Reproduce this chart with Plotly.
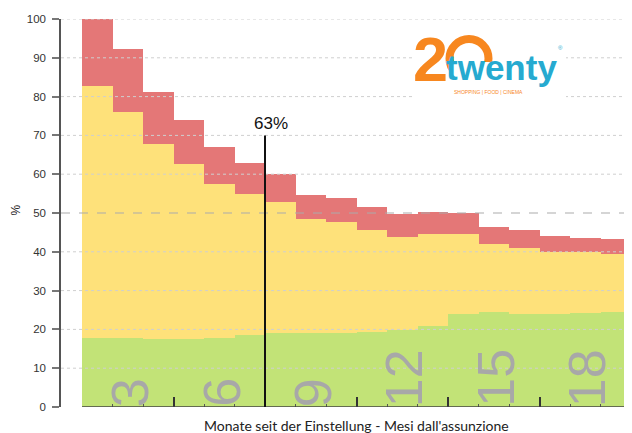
import plotly.graph_objects as go

# ---- data ----
months = list(range(1, 19))
green = [17.9, 17.9, 17.5, 17.6, 17.8, 18.5, 19.1, 19.1, 19.2, 19.3, 19.8, 20.8, 23.9, 24.4, 24.0, 24.0, 24.2, 24.4]
yellow_top = [82.7, 76.0, 67.8, 62.6, 57.5, 55.0, 52.8, 48.5, 47.7, 45.6, 43.9, 44.7, 44.7, 42.1, 41.1, 39.9, 39.9, 39.5]
total = [100.0, 92.3, 81.2, 74.0, 67.0, 63.0, 60.0, 54.6, 53.9, 51.5, 49.7, 50.2, 49.9, 46.4, 45.6, 44.1, 43.6, 43.3]
yellow = [round(yt - g, 2) for yt, g in zip(yellow_top, green)]
red = [round(t - yt, 2) for t, yt in zip(total, yellow_top)]
y_ticks = list(range(0, 101, 10))
ref_level = 50
marker_month = 6
marker_value = 63
group_labels = [m for m in months if m % 3 == 0]

# ---- layout geometry (page body has an 8px margin) ----
OFF = 8
PAGE_W, PAGE_H = 632, 433
W, H = PAGE_W - OFF, PAGE_H - OFF
L, R, T, B = 61 - OFF, 1, 19 - OFF, 26
PW, PH = W - L - R, H - T - B
bar_px = 30.5
x0 = 0.5 - (82 - 61) / bar_px
x1 = x0 + PW / bar_px


def px(xp):  # page pixel -> paper
    return (xp - OFF - L) / PW


def py(yp):
    return (PAGE_H - B - yp) / PH


C_RED, C_YEL, C_GRN = "#E47777", "#FEE17A", "#C2E377"
TXT = "Liberation Sans"

fig = go.Figure()
fig.add_bar(x=months, y=green, marker=dict(color=C_GRN, line=dict(width=0)), width=1)
fig.add_bar(x=months, y=yellow, marker=dict(color=C_YEL, line=dict(width=0)), width=1)
fig.add_bar(x=months, y=red, marker=dict(color=C_RED, line=dict(width=0)), width=1)

shapes = []
for v in y_ticks[1:]:
    if v == ref_level:
        shapes.append(dict(type="line", xref="paper", yref="y", x0=0, x1=1, y0=v, y1=v,
                           line=dict(color="#ABABAB", width=1, dash="dash"), layer="above"))
    else:
        shapes.append(dict(type="line", xref="paper", yref="y", x0=0, x1=1, y0=v, y1=v,
                           line=dict(color="#CFCFCF", width=1, dash="dot"), layer="above"))
shapes.append(dict(type="line", xref="x", yref="y", x0=months[0] - 0.5, x1=months[-1] + 0.5, y0=0, y1=0,
                   line=dict(color="#444", width=1.5), layer="above"))
shapes.append(dict(type="line", xref="x", yref="y", x0=marker_month + 0.5, x1=marker_month + 0.5,
                   y0=0, y1=marker_value + 7, line=dict(color="#111", width=2), layer="above"))
# logo background and "0" arch
shapes.append(dict(type="rect", xref="paper", yref="paper", x0=px(412), x1=px(566), y0=py(104), y1=py(26),
                   fillcolor="white", line=dict(width=0), layer="above"))
shapes.append(dict(type="circle", xref="paper", yref="paper", x0=px(449.5), x1=px(488.5), y0=py(78), y1=py(39),
                   line=dict(color="#F7871F", width=8), fillcolor="rgba(0,0,0,0)", layer="above"))
shapes.append(dict(type="rect", xref="paper", yref="paper", x0=px(451), x1=px(496), y0=py(86), y1=py(62),
                   fillcolor="white", line=dict(width=0), layer="above"))

annotations = []
for m in group_labels:
    annotations.append(dict(x=m - 1, y=0, xref="x", yref="y", text=str(m), textangle=-90,
                            xanchor="center", yanchor="bottom", showarrow=False, yshift=-2, xshift=2,
                            font=dict(family=TXT, size=52, color="#A8A8A8")))
annotations.append(dict(x=marker_month + 0.5, y=marker_value + 7, xref="x", yref="y", text=f"{marker_value}%",
                        showarrow=False, xanchor="center", yanchor="bottom", xshift=6, yshift=0,
                        font=dict(family=TXT, size=17, color="#111")))
annotations.append(dict(x=px(356.5), y=py(425), xref="paper", yref="paper",
                        text="Monate seit der Einstellung - Mesi dall'assunzione", showarrow=False,
                        xanchor="center", yanchor="middle", font=dict(family="Lato", size=14, color="#222")))
annotations.append(dict(x=px(15.5), y=py(210), xref="paper", yref="paper", text="%", textangle=-90,
                        showarrow=False, xanchor="center", yanchor="middle", borderpad=0,
                        font=dict(family=TXT, size=12, color="#222")))
annotations.append(dict(x=px(412), y=py(82), xref="paper", yref="paper", text="<b>2</b>", showarrow=False,
                        xanchor="left", yanchor="bottom", yshift=-13, borderpad=0,
                        font=dict(family=TXT, size=63, color="#F7871F")))
annotations.append(dict(x=px(445), y=py(80), xref="paper", yref="paper", text="<b>twenty</b>", showarrow=False,
                        xanchor="left", yanchor="bottom", yshift=-8, borderpad=0,
                        font=dict(family=TXT, size=35, color="#26AAD0")))
annotations.append(dict(x=px(560), y=py(48), xref="paper", yref="paper", text="®", showarrow=False,
                        xanchor="center", yanchor="middle", font=dict(family=TXT, size=6, color="#26AAD0")))
annotations.append(dict(x=px(488), y=py(92), xref="paper", yref="paper", text="SHOPPING | FOOD | CINEMA",
                        showarrow=False, xanchor="center", yanchor="middle",
                        font=dict(family=TXT, size=5, color="#F7871F")))

fig.update_layout(
    width=W, height=H, barmode="stack", bargap=0, showlegend=False,
    margin=dict(l=L, r=R, t=T, b=B, pad=0, autoexpand=False),
    plot_bgcolor="white", paper_bgcolor="white",
    shapes=shapes, annotations=annotations,
    xaxis=dict(range=[x0, x1], showgrid=False, zeroline=False, showline=False, showticklabels=False,
               automargin=False,
               tickmode="array", tickvals=[m + 0.5 for m in group_labels], ticks="inside", ticklen=10,
               tickwidth=1.5, tickcolor="#333",
               minor=dict(tickmode="array", tickvals=[m + 0.5 for m in months[:-1]], ticks="inside",
                          ticklen=3, tickwidth=1, tickcolor="#555")),
    yaxis=dict(range=[0, 100], tickvals=y_ticks, showgrid=False, zeroline=False, showline=True,
               automargin=False,
               linecolor="#555", linewidth=1.5, ticks="outside", ticklen=7, tickcolor="#777", tickwidth=1.5,
               ticklabelstandoff=4, tickfont=dict(family=TXT, size=11.5, color="#333")),
)
fig.write_html("out.html")
